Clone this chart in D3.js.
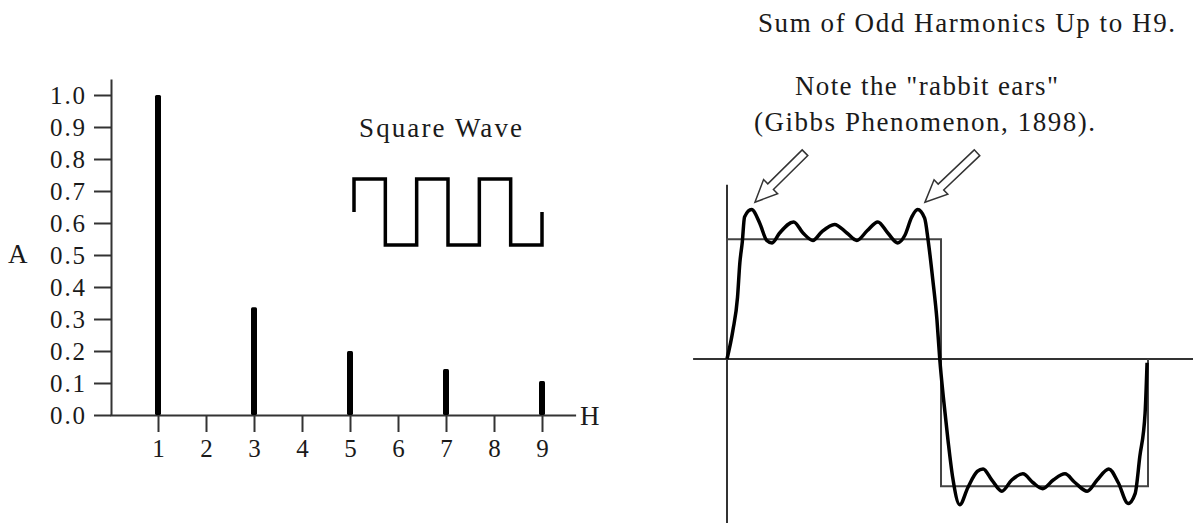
<!DOCTYPE html>
<html>
<head>
<meta charset="utf-8">
<script src="https://cdn.jsdelivr.net/npm/d3@7"></script>
<style>
  html, body { margin: 0; padding: 0; background: #fff; }
  svg { display: block; }
  text { font-family: "Liberation Serif", "Times New Roman", serif; fill: #1a1a1a; }
</style>
</head>
<body>
<svg id="chart" width="1193" height="523"></svg>
<script>
// Harmonic spectrum (left)
const harmonics = [1, 3, 5, 7, 9];
const amplitudes = [1.0, 0.337, 0.2, 0.144, 0.106];
const xTicks = [1, 2, 3, 4, 5, 6, 7, 8, 9];
const yTicks = [0, 0.1, 0.2, 0.3, 0.4, 0.5, 0.6, 0.7, 0.8, 0.9, 1.0];

// Small square wave inset: level for each half period
const insetLevels = [1, -1, 1, -1, 1, -1];

// Sum of odd harmonics up to H9 (right)
const sumPhase = [0, 5, 9, 11, 13, 15, 21, 28, 34, 38.5, 45, 57, 65, 73.5, 81, 92, 102.5, 111, 120, 129, 137.5, 146, 152, 158, 163, 169, 172, 176, 179.5, 182,
  185, 189, 193, 199, 206, 214, 219, 226.5, 235, 243.5, 253, 261.5, 270, 279, 289, 297.5, 308, 316.5, 326.5, 334.5, 343, 349, 353, 357.5, 359.2];
const sumValue = [0, 0.23, 0.5, 0.78, 0.94, 1.15, 1.21, 1.1, 0.96, 0.94, 1.02, 1.11, 1.02, 0.96, 1.03, 1.09, 1.02, 0.96, 1.04, 1.11, 1.02, 0.94, 1.0, 1.15, 1.21, 1.14, 0.96, 0.64, 0.32, -0.01,
  -0.31, -0.66, -0.96, -1.18, -1.04, -0.91, -0.89, -0.98, -1.07, -0.98, -0.93, -1.0, -1.05, -0.98, -0.93, -1.0, -1.07, -0.98, -0.89, -1.0, -1.17, -1.09, -0.79, -0.44, -0.03];

// Ideal square wave drawn under the sum
const squareEdges = [0, 183, 360];
const squareLevels = [0.97, -1.03];

// Arrows pointing at the "rabbit ears" [phase, value]
const arrowTail = [[66.7, 1.67], [213.8, 1.67]];
const arrowTip = [[23.9, 1.27], [169.3, 1.27]];

(function() {
    const svg = d3.select('#chart');
    const font = '"Liberation Serif", "Times New Roman", serif';
    const axisColor = '#333';

    svg.append('rect').attr('width', 1193).attr('height', 523).attr('fill', '#fff');

    // ---------- Left: spectrum ----------
    const xL = d3.scaleLinear().domain([0, 9.7]).range([110, 575.6]);
    const yL = d3.scaleLinear().domain([0, 1.05]).range([415, 79]);

    const yAxis = svg.append('g')
        .attr('transform', `translate(${xL(0) + 1},0)`)
        .call(d3.axisLeft(yL).tickValues(yTicks).tickFormat(d3.format('.1f'))
            .tickSize(17).tickSizeOuter(0).tickPadding(9));

    const xAxis = svg.append('g')
        .attr('transform', `translate(0,${yL(0)})`)
        .call(d3.axisBottom(xL).tickValues(xTicks).tickFormat(d3.format('d'))
            .tickSize(17).tickSizeOuter(0).tickPadding(7));

    [yAxis, xAxis].forEach(ax => {
        ax.attr('font-family', font).attr('font-size', 25);
        ax.select('.domain').attr('stroke', axisColor).attr('stroke-width', 2);
        ax.selectAll('.tick line').attr('stroke', axisColor).attr('stroke-width', 2);
        ax.selectAll('.tick text').attr('fill', '#1a1a1a');
    });
    yAxis.selectAll('.tick text').attr('textLength', 35).attr('lengthAdjust', 'spacing');

    // bars
    svg.append('g').selectAll('rect')
        .data(harmonics)
        .enter()
        .append('rect')
        .attr('x', d => xL(d) - 3)
        .attr('y', (d, i) => yL(amplitudes[i]))
        .attr('width', 6)
        .attr('height', (d, i) => yL(0) - yL(amplitudes[i]))
        .attr('rx', 1.5)
        .attr('fill', '#000');

    svg.append('text').attr('x', 8).attr('y', 263).attr('font-size', 27).text('A');
    svg.append('text').attr('x', 580).attr('y', 425).attr('font-size', 27).text('H');

    // inset square wave
    const xI = d3.scaleLinear().domain([0, 6]).range([354, 542]);
    const yI = d3.scaleLinear().domain([-1, 1]).range([245, 179]);
    const insetPts = [[0, 0]]
        .concat(insetLevels.map((v, i) => [i, v]))
        .concat([[insetLevels.length, insetLevels[insetLevels.length - 1]], [insetLevels.length, 0]]);
    svg.append('path')
        .attr('d', d3.line().x(d => xI(d[0])).y(d => yI(d[1])).curve(d3.curveStepAfter)(insetPts))
        .attr('fill', 'none')
        .attr('stroke', '#000')
        .attr('stroke-width', 3.5)
        .attr('stroke-linejoin', 'miter');

    svg.append('text')
        .attr('x', 359).attr('y', 137)
        .attr('font-size', 27)
        .attr('textLength', 163).attr('lengthAdjust', 'spacing')
        .text('Square Wave');

    // ---------- Right: sum of harmonics ----------
    const xR = d3.scaleLinear().domain([0, 360]).range([727, 1148]);
    const yR = d3.scaleLinear().domain([-1, 1]).range([359 + 123.5, 359 - 123.5]);

    // axes
    svg.append('line')
        .attr('x1', xR(-29)).attr('x2', xR(400))
        .attr('y1', yR(0)).attr('y2', yR(0))
        .attr('stroke', axisColor).attr('stroke-width', 2);
    svg.append('line')
        .attr('x1', xR(0)).attr('x2', xR(0))
        .attr('y1', yR(1.41)).attr('y2', yR(-1.35))
        .attr('stroke', axisColor).attr('stroke-width', 2);

    // ideal square
    const sqPts = [[squareEdges[0], 0], [squareEdges[0], squareLevels[0]], [squareEdges[1], squareLevels[1]],
        [squareEdges[2], squareLevels[1]], [squareEdges[2], 0]];
    svg.append('path')
        .attr('d', d3.line().x(d => xR(d[0])).y(d => yR(d[1])).curve(d3.curveStepAfter)(sqPts))
        .attr('fill', 'none')
        .attr('stroke', '#444')
        .attr('stroke-width', 2);

    // summed curve
    const sumPts = sumPhase.map((t, i) => [t, sumValue[i]]);
    svg.append('path')
        .attr('d', d3.line().x(d => xR(d[0])).y(d => yR(d[1])).curve(d3.curveMonotoneX)(sumPts))
        .attr('fill', 'none')
        .attr('stroke', '#000')
        .attr('stroke-width', 3.5)
        .attr('stroke-linejoin', 'round');

    // hollow arrows
    arrowTip.forEach((tip, i) => {
        const tail = arrowTail[i];
        const x0 = xR(tip[0]), y0 = yR(tip[1]);
        const x1 = xR(tail[0]), y1 = yR(tail[1]);
        const len = Math.hypot(x1 - x0, y1 - y0);
        const ang = Math.atan2(y1 - y0, x1 - x0) * 180 / Math.PI;
        const H = 22, W = 10, w = 4;
        const shape = [[0, 0], [H, -W], [H, -w], [len, -w], [len, w], [H, w], [H, W]];
        svg.append('polygon')
            .attr('points', shape.map(p => p.join(',')).join(' '))
            .attr('transform', `translate(${x0},${y0}) rotate(${ang})`)
            .attr('fill', '#fff')
            .attr('stroke', '#333')
            .attr('stroke-width', 1.5)
            .attr('stroke-linejoin', 'miter');
    });

    // captions
    svg.append('text')
        .attr('x', 758).attr('y', 32).attr('font-size', 27)
        .attr('textLength', 417).attr('lengthAdjust', 'spacing')
        .text('Sum of Odd Harmonics Up to H9.');
    svg.append('text')
        .attr('x', 795).attr('y', 95).attr('font-size', 27)
        .attr('textLength', 263).attr('lengthAdjust', 'spacing')
        .text('Note the "rabbit ears"');
    svg.append('text')
        .attr('x', 754).attr('y', 131).attr('font-size', 27)
        .attr('textLength', 341).attr('lengthAdjust', 'spacing')
        .text('(Gibbs Phenomenon, 1898).');
})();
</script>
</body>
</html>
